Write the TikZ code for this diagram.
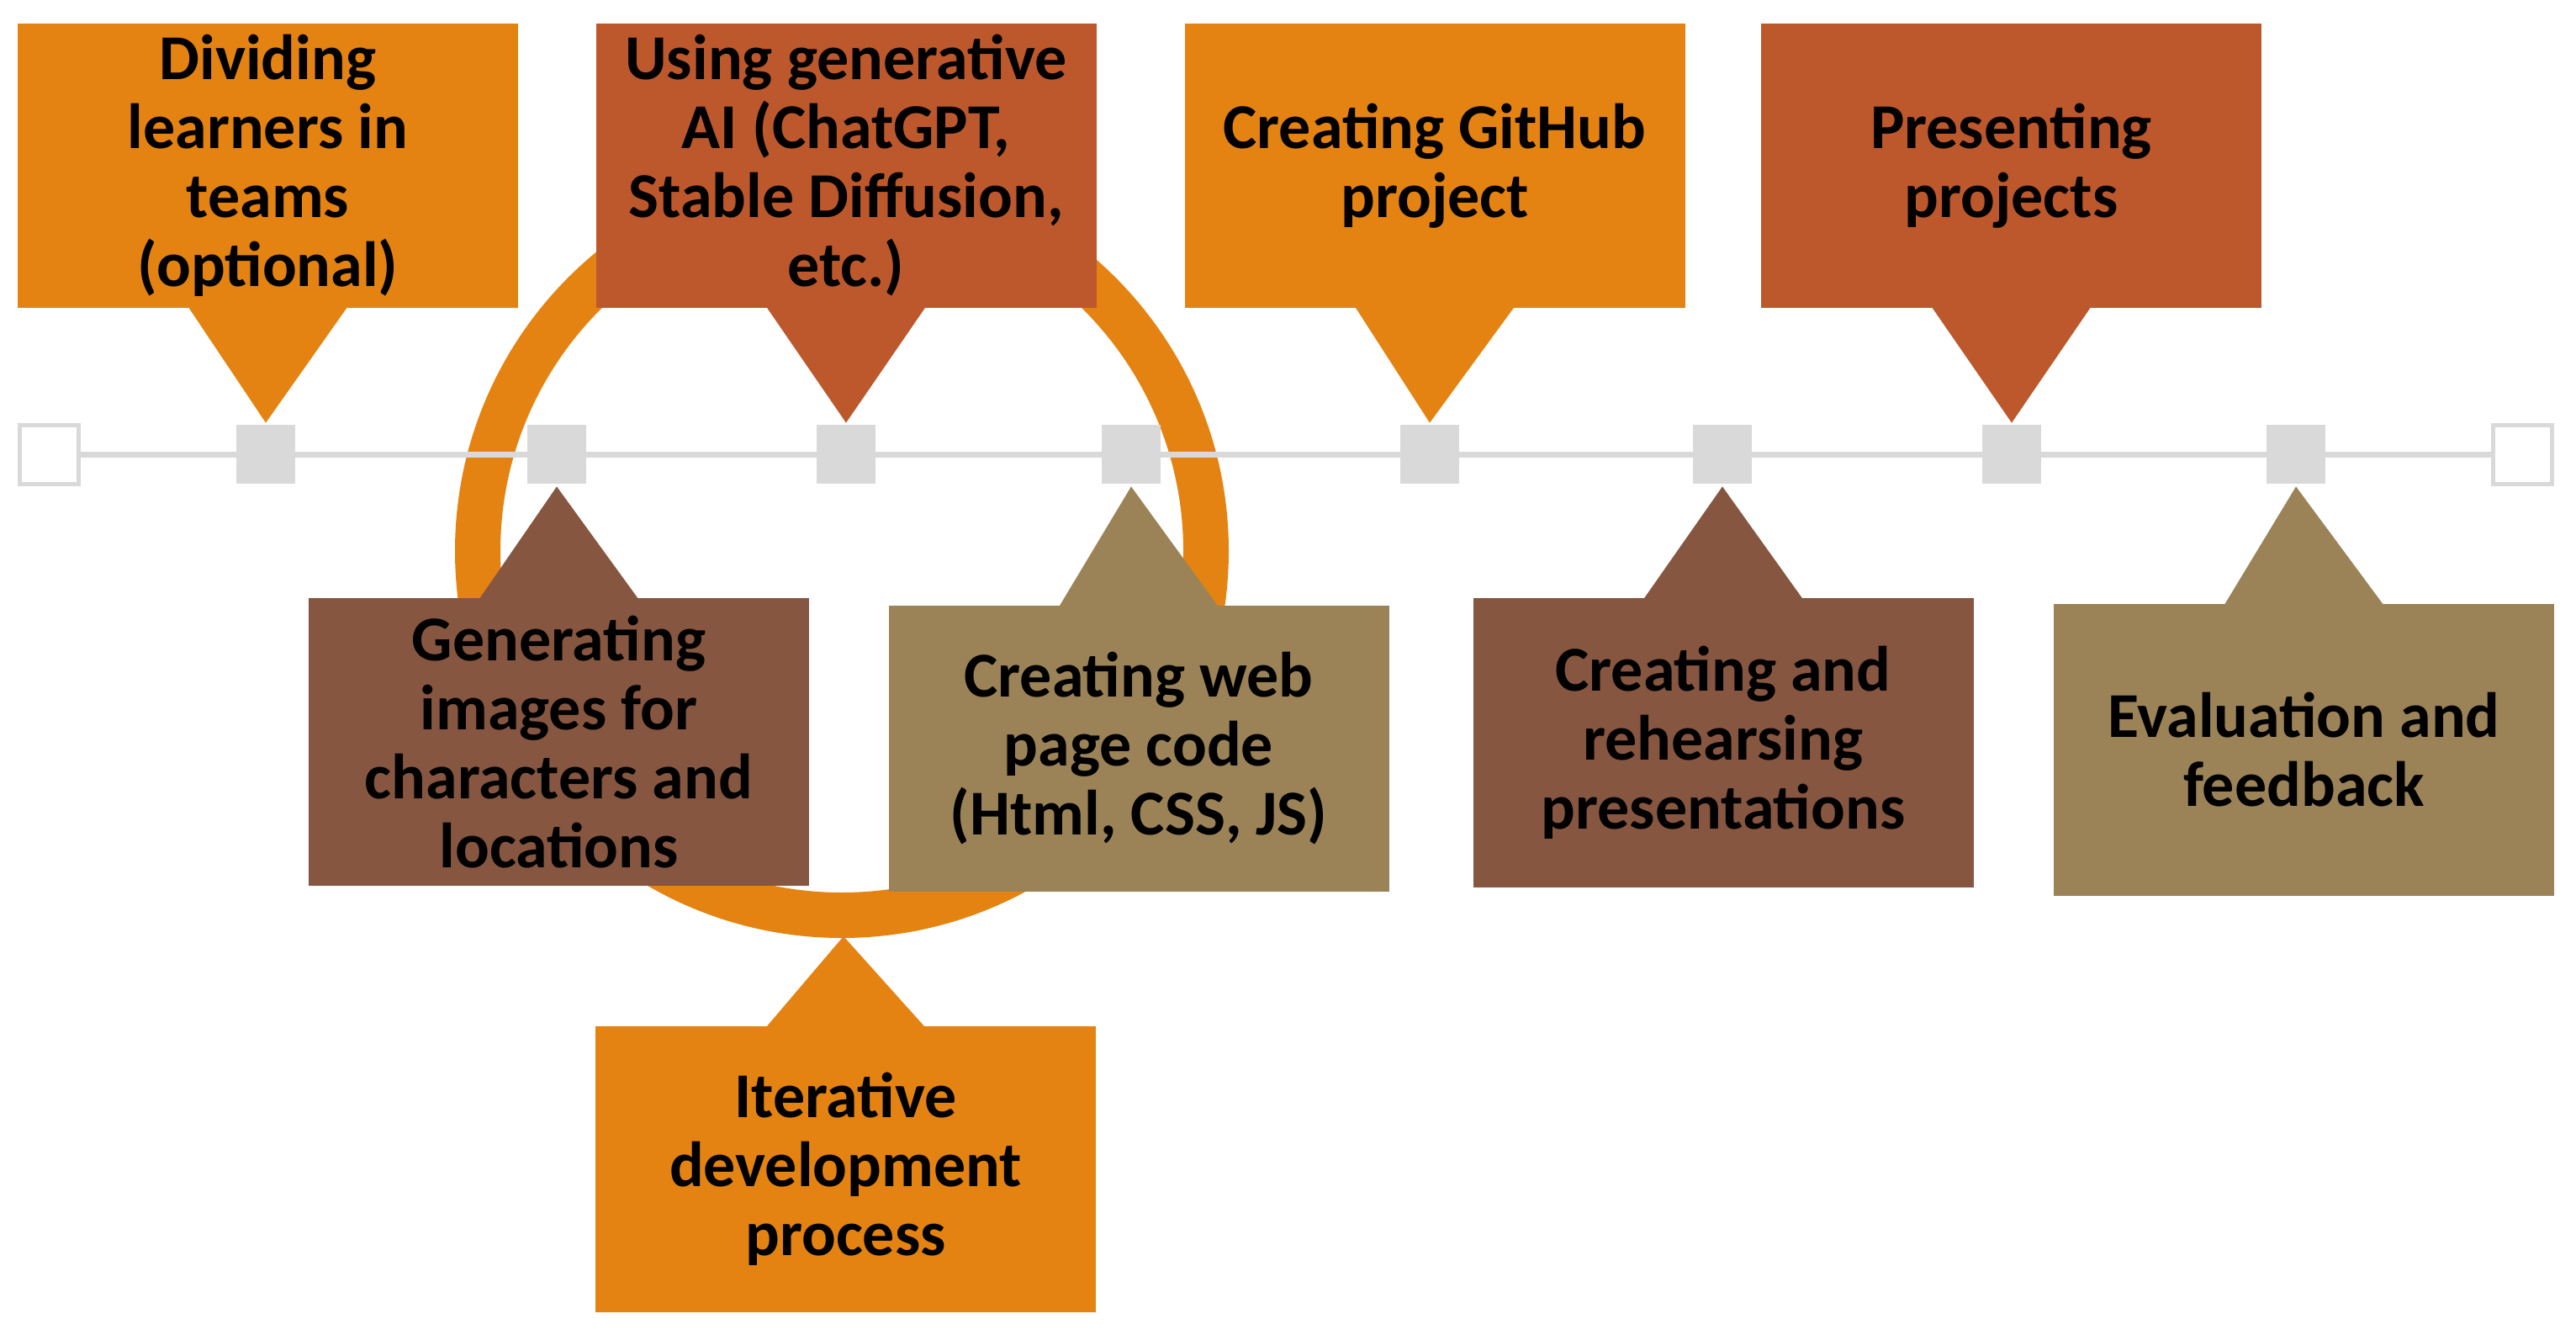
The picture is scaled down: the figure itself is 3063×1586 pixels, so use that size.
\documentclass[tikz,border=0pt]{standalone}
\usepackage{fontspec}
\setmainfont{Carlito}
\usetikzlibrary{calc}
\definecolor{corange}{HTML}{E48312}
\definecolor{crust}{HTML}{BD582C}
\definecolor{cbrown}{HTML}{865640}
\definecolor{colive}{HTML}{9B8357}
\definecolor{cgray}{HTML}{D9D9D9}
\begin{document}
\begin{tikzpicture}[x=0.5pt,y=-0.5pt,
  callout/.style={minimum width=297.5pt, inner sep=0pt, align=center,
    font=\bfseries\fontsize{38}{41}\selectfont, text=black},
  tick/.style={fill=cgray, minimum size=35pt, inner sep=0pt},
  endtick/.style={draw=cgray, fill=white, line width=2.5pt, minimum size=35pt, inner sep=0pt},
  ringstyle/.style={draw=corange, line width=27pt}]
\useasboundingbox (0,0) rectangle (3063,1586);
% iterative ring
\coordinate (ringc) at (1001,655);
\draw[ringstyle] (ringc) circle[radius=433];
\coordinate (ringbot) at (1003,1113);
% timeline
\node[endtick] (e0) at (58,540) {};
\node[endtick] (e1) at (2999,540) {};
\draw[cgray, line width=3.5pt] (e0) -- (e1);
\node[tick] (t1) at (316,540) {};
\node[tick] (t2) at (662,540) {};
\node[tick] (t3) at (1006,540) {};
\node[tick] (t4) at (1345,540) {};
\node[tick] (t5) at (1700,540) {};
\node[tick] (t6) at (2048,540) {};
\node[tick] (t7) at (2392,540) {};
\node[tick] (t8) at (2730,540) {};
% top callouts
\node[callout, fill=corange, minimum height=169pt] (b1) at (318.5,197) {Dividing\\learners in\\teams\\(optional)};
\node[callout, fill=crust, minimum height=169pt] (b2) at (1006,197) {Using generative\\AI (ChatGPT,\\Stable Diffusion,\\etc.)};
\node[callout, fill=corange, minimum height=169pt] (b3) at (1706,197) {Creating GitHub\\project};
\node[callout, fill=crust, minimum height=169pt] (b4) at (2391.5,197) {Presenting\\projects};
\fill[corange] ($(b1.south)+(-95,-2)$) -- ($(t1.north)+(0,-2)$) -- ($(b1.south)+(95,-2)$) -- cycle;
\fill[crust] ($(b2.south)+(-95,-2)$) -- ($(t3.north)+(0,-2)$) -- ($(b2.south)+(95,-2)$) -- cycle;
\fill[corange] ($(b3.south)+(-95,-2)$) -- ($(t5.north)+(0,-2)$) -- ($(b3.south)+(95,-2)$) -- cycle;
\fill[crust] ($(b4.south)+(-95,-2)$) -- ($(t7.north)+(0,-2)$) -- ($(b4.south)+(95,-2)$) -- cycle;
% bottom callouts
\node[callout, fill=cbrown, minimum height=171pt] (g) at (664.5,882) {Generating\\images for\\characters and\\locations};
\node[callout, fill=colive, minimum height=170pt] (w) at (1354,890) {Creating web\\page code\\(Html, CSS, JS)};
\node[callout, fill=cbrown, minimum height=172pt] (r) at (2049,883) {Creating and\\rehearsing\\presentations};
\node[callout, fill=colive, minimum height=173.5pt] (v) at (2739.5,891.5) {Evaluation and\\feedback};
\node[callout, fill=corange, minimum height=170pt] (it) at (1005.5,1390) {Iterative\\development\\process};
\fill[cbrown] ($(g.north)+(-95,2)$) -- ($(t2.south)+(0,3)$) -- ($(g.north)+(95,2)$) -- cycle;
\fill[colive] ($(w.north)+(-95,2)$) -- ($(t4.south)+(0,3)$) -- ($(w.north)+(95,2)$) -- cycle;
\fill[cbrown] ($(r.north)+(-95,2)$) -- ($(t6.south)+(0,3)$) -- ($(r.north)+(95,2)$) -- cycle;
\fill[colive] ($(v.north)+(-95,2)$) -- ($(t8.south)+(0,3)$) -- ($(v.north)+(95,2)$) -- cycle;
\fill[corange] ($(it.north)+(-95,2)$) -- (ringbot) -- ($(it.north)+(95,2)$) -- cycle;
\end{tikzpicture}
\end{document}
